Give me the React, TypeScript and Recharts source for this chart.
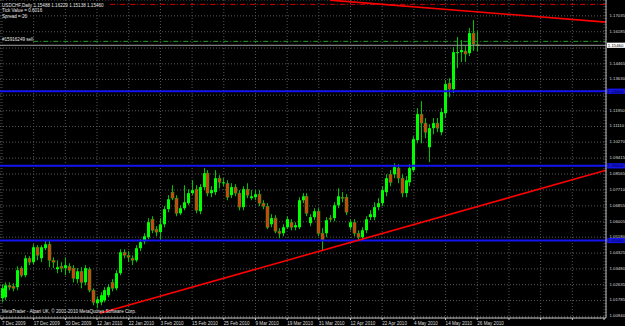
import React from 'react';
import { ComposedChart, Bar, XAxis, YAxis, CartesianGrid, ReferenceLine } from 'recharts';

// USDCHF daily bars, 7 Dec 2009 .. 26 May 2010 (index = bar number)
const opens = [
  1.0191, 1.0196, 1.026, 1.0255, 1.025, 1.0352, 1.0314, 1.0405, 1.0384, 1.0464,
  1.0405, 1.0459, 1.048, 1.0394, 1.0346, 1.0362, 1.0352, 1.0362, 1.0352, 1.0293,
  1.0335, 1.0276, 1.0346, 1.0234, 1.0164, 1.0169, 1.018, 1.0207, 1.0276, 1.0244,
  1.0325, 1.0437, 1.0421, 1.0405, 1.0394, 1.0459, 1.0496, 1.0518, 1.0614, 1.0561,
  1.0545, 1.0587, 1.0668, 1.0759, 1.0727, 1.0646, 1.0673, 1.07, 1.0754, 1.0775,
  1.0657, 1.0786, 1.0861, 1.0754, 1.0759, 1.0834, 1.0807, 1.0807, 1.0743, 1.0786,
  1.0754, 1.0679, 1.0775, 1.0727, 1.0732, 1.0748, 1.07, 1.0684, 1.0587, 1.062,
  1.055, 1.0539, 1.0571, 1.0598, 1.0571, 1.0571, 1.0716, 1.0737, 1.0593, 1.0625,
  1.0657, 1.0539, 1.0539, 1.062, 1.062, 1.0689, 1.0732, 1.0732, 1.0571, 1.0598,
  1.0539, 1.0518, 1.0555, 1.0625, 1.0625, 1.0679, 1.07, 1.0759, 1.0855, 1.0855,
  1.0888, 1.0834, 1.0754, 1.0812, 1.0877, 1.1038, 1.1177, 1.1129, 1.1, 1.1102,
  1.1129, 1.108, 1.1182, 1.1343, 1.1311, 1.1504, 1.1509, 1.1515, 1.1504, 1.1611,
  1.15488,
];
const highs = [
  1.0266, 1.0276, 1.0276, 1.0271, 1.0362, 1.0362, 1.0421, 1.0416, 1.048, 1.0475,
  1.0475, 1.0502, 1.0502, 1.041, 1.0394, 1.0384, 1.041, 1.0378, 1.0368, 1.0352,
  1.0357, 1.0368, 1.0357, 1.0244, 1.0201, 1.0223, 1.025, 1.0266, 1.0293, 1.0341,
  1.0453, 1.0453, 1.0443, 1.0421, 1.0475, 1.0507, 1.0539, 1.062, 1.063, 1.0577,
  1.062, 1.0684, 1.0743, 1.0796, 1.0743, 1.0689, 1.0796, 1.0775, 1.0823, 1.0796,
  1.0802, 1.0888, 1.0877, 1.0791, 1.0877, 1.085, 1.0834, 1.0823, 1.0807, 1.0802,
  1.077, 1.0791, 1.0807, 1.077, 1.077, 1.077, 1.0716, 1.07, 1.0641, 1.0636,
  1.0566, 1.0587, 1.063, 1.0614, 1.0598, 1.0732, 1.0754, 1.0754, 1.0641, 1.0673,
  1.0673, 1.0566, 1.0625, 1.0636, 1.0705, 1.078, 1.0759, 1.0748, 1.0614, 1.0614,
  1.0555, 1.0571, 1.063, 1.0662, 1.0705, 1.0727, 1.0791, 1.0855, 1.0877, 1.0914,
  1.0909, 1.0855, 1.0845, 1.0909, 1.1059, 1.1209, 1.1247, 1.1156, 1.1123, 1.1156,
  1.1156, 1.1209, 1.1359, 1.137, 1.1536, 1.159, 1.1574, 1.1541, 1.1638, 1.1681,
  1.16229,
];
const lows = [
  1.0169, 1.018, 1.0234, 1.0228, 1.0234, 1.0303, 1.0303, 1.0368, 1.0373, 1.0394,
  1.0384, 1.0448, 1.0357, 1.0352, 1.0325, 1.033, 1.0314, 1.0325, 1.0276, 1.0271,
  1.0244, 1.026, 1.0223, 1.0153, 1.0137, 1.0153, 1.0169, 1.0196, 1.0228, 1.0234,
  1.0314, 1.0405, 1.0384, 1.0368, 1.0384, 1.0443, 1.048, 1.0507, 1.0539, 1.0523,
  1.0502, 1.0571, 1.0652, 1.0716, 1.063, 1.0636, 1.0662, 1.0689, 1.0743, 1.0646,
  1.0641, 1.077, 1.0737, 1.0732, 1.0743, 1.078, 1.0791, 1.0716, 1.0727, 1.0737,
  1.0662, 1.0662, 1.0727, 1.0716, 1.0716, 1.0684, 1.0668, 1.0561, 1.0571, 1.0539,
  1.0512, 1.0523, 1.0561, 1.0555, 1.0555, 1.0561, 1.07, 1.063, 1.0577, 1.0609,
  1.0523, 1.0448, 1.0518, 1.0598, 1.0603, 1.0673, 1.0705, 1.0636, 1.0555, 1.0523,
  1.0496, 1.0502, 1.0539, 1.0609, 1.0609, 1.0662, 1.0684, 1.0737, 1.0791, 1.0834,
  1.0807, 1.0732, 1.0732, 1.0791, 1.0866, 1.1021, 1.1021, 1.1048, 1.092, 1.107,
  1.108, 1.1064, 1.1156, 1.1268, 1.129, 1.1424, 1.1456, 1.1456, 1.1488, 1.1515,
  1.15138,
];
const closes = [
  1.0244, 1.026, 1.025, 1.0244, 1.0341, 1.0314, 1.0405, 1.0384, 1.0464, 1.0421,
  1.0464, 1.048, 1.0394, 1.0384, 1.0357, 1.0352, 1.0368, 1.0341, 1.0298, 1.0335,
  1.0276, 1.0352, 1.0234, 1.0169, 1.0185, 1.0207, 1.0234, 1.025, 1.0244, 1.0325,
  1.0437, 1.0421, 1.041, 1.0394, 1.0459, 1.0491, 1.0523, 1.0598, 1.0555, 1.0545,
  1.0587, 1.0668, 1.0721, 1.0727, 1.0646, 1.0673, 1.0705, 1.0754, 1.077, 1.0662,
  1.0786, 1.0861, 1.0754, 1.077, 1.0834, 1.0812, 1.0812, 1.0732, 1.0786, 1.0754,
  1.0679, 1.0775, 1.0743, 1.0737, 1.0748, 1.07, 1.0684, 1.0571, 1.062, 1.055,
  1.0539, 1.0571, 1.0614, 1.0571, 1.0582, 1.0716, 1.0737, 1.0646, 1.0625, 1.0657,
  1.0539, 1.0502, 1.0609, 1.0614, 1.0689, 1.0737, 1.0727, 1.0652, 1.0598, 1.0539,
  1.0518, 1.0555, 1.0614, 1.0641, 1.0679, 1.07, 1.077, 1.0834, 1.0812, 1.0893,
  1.0834, 1.0754, 1.0823, 1.0888, 1.1043, 1.1177, 1.1129, 1.108, 1.1102, 1.1129,
  1.1102, 1.1188, 1.1338, 1.1311, 1.1509, 1.1509, 1.152, 1.1499, 1.1611, 1.1552,
  1.1546,
];

const dateLabels = [
  '7 Dec 2009', '17 Dec 2009', '30 Dec 2009', '12 Jan 2010', '22 Jan 2010', '3 Feb 2010',
  '15 Feb 2010', '25 Feb 2010', '9 Mar 2010', '19 Mar 2010', '31 Mar 2010', '12 Apr 2010',
  '22 Apr 2010', '4 May 2010', '14 May 2010', '26 May 2010',
];
const labelBars = [0, 8, 16, 24, 32, 40, 48, 56, 64, 72, 80, 88, 96, 104, 112, 120];
const gridBars = [...labelBars, 128, 136, 144, 152];

const priceTicks = [
  1.0094, 1.01785, 1.02635, 1.0348, 1.04325, 1.0518, 1.06005, 1.06855, 1.0771, 1.08565,
  1.09415, 1.1027, 1.1111, 1.1195, 1.1279, 1.1363, 1.14465, 1.1531, 1.16185, 1.17035,
];
// tick labels covered by the price boxes on the axis
const hiddenTicks = [1.1279, 1.1531];

const levels = [1.13, 1.09, 1.05];
const levelText = ['1.13000', '1.09000', '1.05000'];
const bidPrice = 1.1546;
const orderPrice = 1.1567;
const stopPrice = 1.1765;
const upperTrend = [{ x: 82.8, y: 1.1788 }, { x: 152.5, y: 1.167 }];
const lowerTrend = [{ x: 24.7, y: 1.011 }, { x: 152.5, y: 1.0877 }];

const bars = opens.map((o, i) => ({ i, open: o, high: highs[i], low: lows[i], close: closes[i] }));

const FONT = '"Liberation Sans", Arial, sans-serif';
const FS = 4.6;
const AXIS_FS = 4.3;

const Candle = (props: any) => {
  const { x, y, width, height, payload } = props;
  if (!payload) return null;
  const { open, close, high, low } = payload;
  const top = Math.min(y, y + height);
  const h = Math.abs(height);
  const k = high === low ? 0 : h / (high - low);
  const cx = Math.round(x + width / 2);
  const bTop = top + (high - Math.max(open, close)) * k;
  const bBot = top + (high - Math.min(open, close)) * k;
  const bull = close >= open;
  return (
    <g>
      <line x1={cx + 0.5} x2={cx + 0.5} y1={top} y2={top + h} stroke="#00c400" strokeWidth={1} />
      <rect
        x={cx - 1}
        y={bTop}
        width={3}
        height={Math.max(1, bBot - bTop)}
        fill={bull ? '#00ff00' : '#d8400c'}
        stroke={bull ? 'none' : '#2aa014'}
        strokeWidth={bull ? 0 : 0.5}
      />
    </g>
  );
};

const DateTick = ({ x, y, payload }: any) => {
  const idx = labelBars.indexOf(payload.value);
  if (idx < 0) return null;
  return (
    <text x={x} y={y + 3.2} fontSize={FS} fill="#dcdcdc" fontFamily={FONT} textAnchor="start">
      {dateLabels[idx]}
    </text>
  );
};

const PriceTick = ({ x, y, payload }: any) => {
  if (hiddenTicks.includes(payload.value)) return null;
  return (
    <text x={x + 1.5} y={y + 0.9} fontSize={AXIS_FS} fill="#dcdcdc" fontFamily={FONT} textAnchor="start">
      {payload.value.toFixed(5)}
    </text>
  );
};

const boxLabel = (text: string, bg: string, fg: string) => (props: any) => {
  const vb = props.viewBox;
  if (!vb) return null;
  const left = vb.x + vb.width + 1;
  return (
    <g>
      <rect x={left} y={vb.y - 2.6} width={20} height={5.2} fill={bg} />
      <text x={left + 0.8} y={vb.y + 1.6} fontSize={AXIS_FS} fill={fg} fontFamily={FONT}>
        {text}
      </text>
    </g>
  );
};

export default function App() {
  return (
    <div style={{ position: 'relative', width: 625, height: 326, background: '#000', overflow: 'hidden' }}>
      <style>{'body{margin:0;background:#000}'}</style>
      <ComposedChart width={625} height={326} data={bars} margin={{ top: 0, right: 0, bottom: 0, left: 0 }}>
        <CartesianGrid stroke="#565656" strokeDasharray="1 2" />
        <XAxis
          type="number"
          dataKey="i"
          domain={[-0.5, 152.5]}
          allowDataOverflow
          ticks={gridBars}
          interval={0}
          height={8}
          tick={<DateTick />}
          tickSize={2}
          tickLine={{ stroke: '#c8c8c8' }}
          axisLine={{ stroke: '#c8c8c8' }}
        />
        <YAxis
          orientation="right"
          width={19}
          domain={[1.0085, 1.17885]}
          allowDataOverflow
          ticks={priceTicks}
          interval={0}
          tick={<PriceTick />}
          tickSize={0}
          tickLine={false}
          axisLine={{ stroke: '#c8c8c8' }}
        />
        {levels.map((lv, k) => (
          <ReferenceLine
            key={lv}
            y={lv}
            stroke="#1414f0"
            strokeWidth={2}
            label={boxLabel(levelText[k], '#1414f0', '#000')}
          />
        ))}
        <ReferenceLine
          segment={[{ x: 27.3, y: stopPrice }, { x: 152.5, y: stopPrice }]}
          stroke="#d00000"
          strokeDasharray="5 2 1 2"
        />
        <ReferenceLine
          segment={[{ x: 7.9, y: orderPrice }, { x: 152.5, y: orderPrice }]}
          stroke="#2a9a2a"
          strokeDasharray="5 2 1 2"
        />
        <ReferenceLine y={bidPrice} stroke="#a0a0a0" label={boxLabel('1.15460', '#ffffff', '#000')} />
        <ReferenceLine segment={upperTrend} stroke="#ff0000" strokeWidth={1.6} ifOverflow="hidden" />
        <ReferenceLine segment={lowerTrend} stroke="#ff0000" strokeWidth={1.6} ifOverflow="hidden" />
        <Bar dataKey={(d: any) => [d.low, d.high]} shape={<Candle />} barSize={3} isAnimationActive={false} />
      </ComposedChart>
      <svg width={625} height={326} style={{ position: 'absolute', left: 0, top: 0, pointerEvents: 'none' }}>
        <g fontFamily={FONT} fontSize={FS} fill="#e6e6e6">
          <text x={2} y={6.5}>USDCHF,Daily  1.15488 1.16229 1.15138 1.15460</text>
          <text x={2} y={12}>Tick Value = 0.6016</text>
          <text x={2} y={17.5}>Spread = 26</text>
          <text x={2} y={40.5}>#15916249 sell</text>
          <text x={2} y={313}>MetaTrader - Alpari UK, © 2001-2010 MetaQuotes Software Corp.</text>
        </g>
      </svg>
    </div>
  );
}
